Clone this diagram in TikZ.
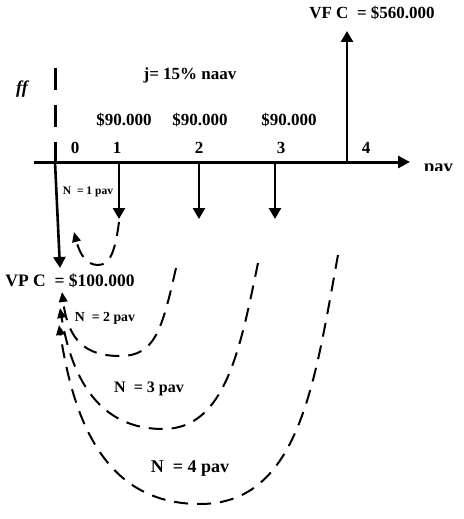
\documentclass[tikz,border=0pt]{standalone}
\usepackage{fontspec}
\setmainfont{Liberation Serif}
\usetikzlibrary{arrows.meta}
\tikzset{
  lbl/.style={inner sep=0pt, font=\bfseries\fontsize{17}{20}\selectfont},
  flow/.style={line width=2.6pt, -{Triangle[length=11pt,width=12pt]}},
  nline/.style={line width=2pt, dash pattern=on 14pt off 9pt, -{Triangle[length=10pt,width=8.5pt]}},
}
\begin{document}
\begin{tikzpicture}[x=1pt,y=-1pt]
\useasboundingbox (0,0) rectangle (463,519);
% axis
\coordinate (a0) at (34,162);
\coordinate (a1) at (410,162);
\coordinate (o) at (55,162);
\coordinate (p1) at (119,162);
\coordinate (p2) at (199,162);
\coordinate (p3) at (275,162);
\coordinate (p4) at (347,162);
\coordinate (d1) at (119,219);
\coordinate (d2) at (199,219);
\coordinate (d3) at (275,219);
\coordinate (u4) at (347,31);
\coordinate (vp) at (60,268);
\coordinate (ft) at (55,68);
\draw[line width=3pt, -{Triangle[length=12pt,width=12pt]}] (a0) -- (a1);
\draw[line width=3pt, dash pattern=on 22pt off 15pt] (ft) -- (o);
\draw[flow] (o) -- (vp);
\draw[flow] (p1) -- (d1);
\draw[flow] (p2) -- (d2);
\draw[flow] (p3) -- (d3);
\draw[flow] (p4) -- (u4);
% labels
\node[lbl] (vf) at (372,13) {VF C\ \ = \$560.000};
\node[lbl] (j) at (190,75) {j= 15\% naav};
\node[lbl, font=\bfseries\itshape\fontsize{18}{20}\selectfont] (ff) at (22,89) {ff};
\node[lbl] (c1) at (124,120) {\$90.000};
\node[lbl] (c2) at (200,120) {\$90.000};
\node[lbl] (c3) at (289,120) {\$90.000};
\node[lbl] (t0) at (75,148) {0};
\node[lbl] (t1) at (117,148) {1};
\node[lbl] (t2) at (199,148) {2};
\node[lbl] (t3) at (281,148) {3};
\node[lbl] (t4) at (366,148) {4};
\begin{scope}
\clip (415,150) rectangle (463,170);
\node[lbl, anchor=base west, font=\bfseries\fontsize{18.5}{20}\selectfont] (pav) at (424,172) {pav};
\end{scope}
\node[lbl, font=\bfseries\fontsize{11.5}{13}\selectfont] (n1) at (88,192) {N\ \ = 1 pav};
\node[lbl, font=\bfseries\fontsize{17.5}{20}\selectfont] (vpc) at (70,281) {VP C\ \ = \$100.000};
\node[lbl, font=\bfseries\fontsize{13.8}{16}\selectfont] (n2) at (105,318) {N\ \ = 2 pav};
\node[lbl, font=\bfseries\fontsize{16}{18}\selectfont] (n3) at (149,389) {N\ \ = 3 pav};
\node[lbl, font=\bfseries\fontsize{18}{20}\selectfont] (n4) at (190,468) {N\ \ = 4 pav};
% dashed curves
\coordinate (s1) at (119,222);
\coordinate (e1) at (74,232);
\coordinate (s2) at (176,268);
\coordinate (e2) at (62,292);
\coordinate (s3) at (258,263);
\coordinate (e3) at (60,308);
\coordinate (s4) at (338,255);
\coordinate (e4) at (59,325);
\draw[nline] (s1) .. controls (115,252) and (110,265) .. (98,265) .. controls (87,265) and (80,255) .. (e1);
\draw[nline] (s2) .. controls (162,330) and (155,356) .. (120,356) .. controls (85,356) and (68,340) .. (e2);
\draw[nline] (s3) .. controls (240,350) and (225,429) .. (163,429) .. controls (100,429) and (72,380) .. (e3);
\draw[nline] (s4) .. controls (315,380) and (300,504) .. (200,504) .. controls (110,504) and (75,430) .. (e4);
\end{tikzpicture}
\end{document}
